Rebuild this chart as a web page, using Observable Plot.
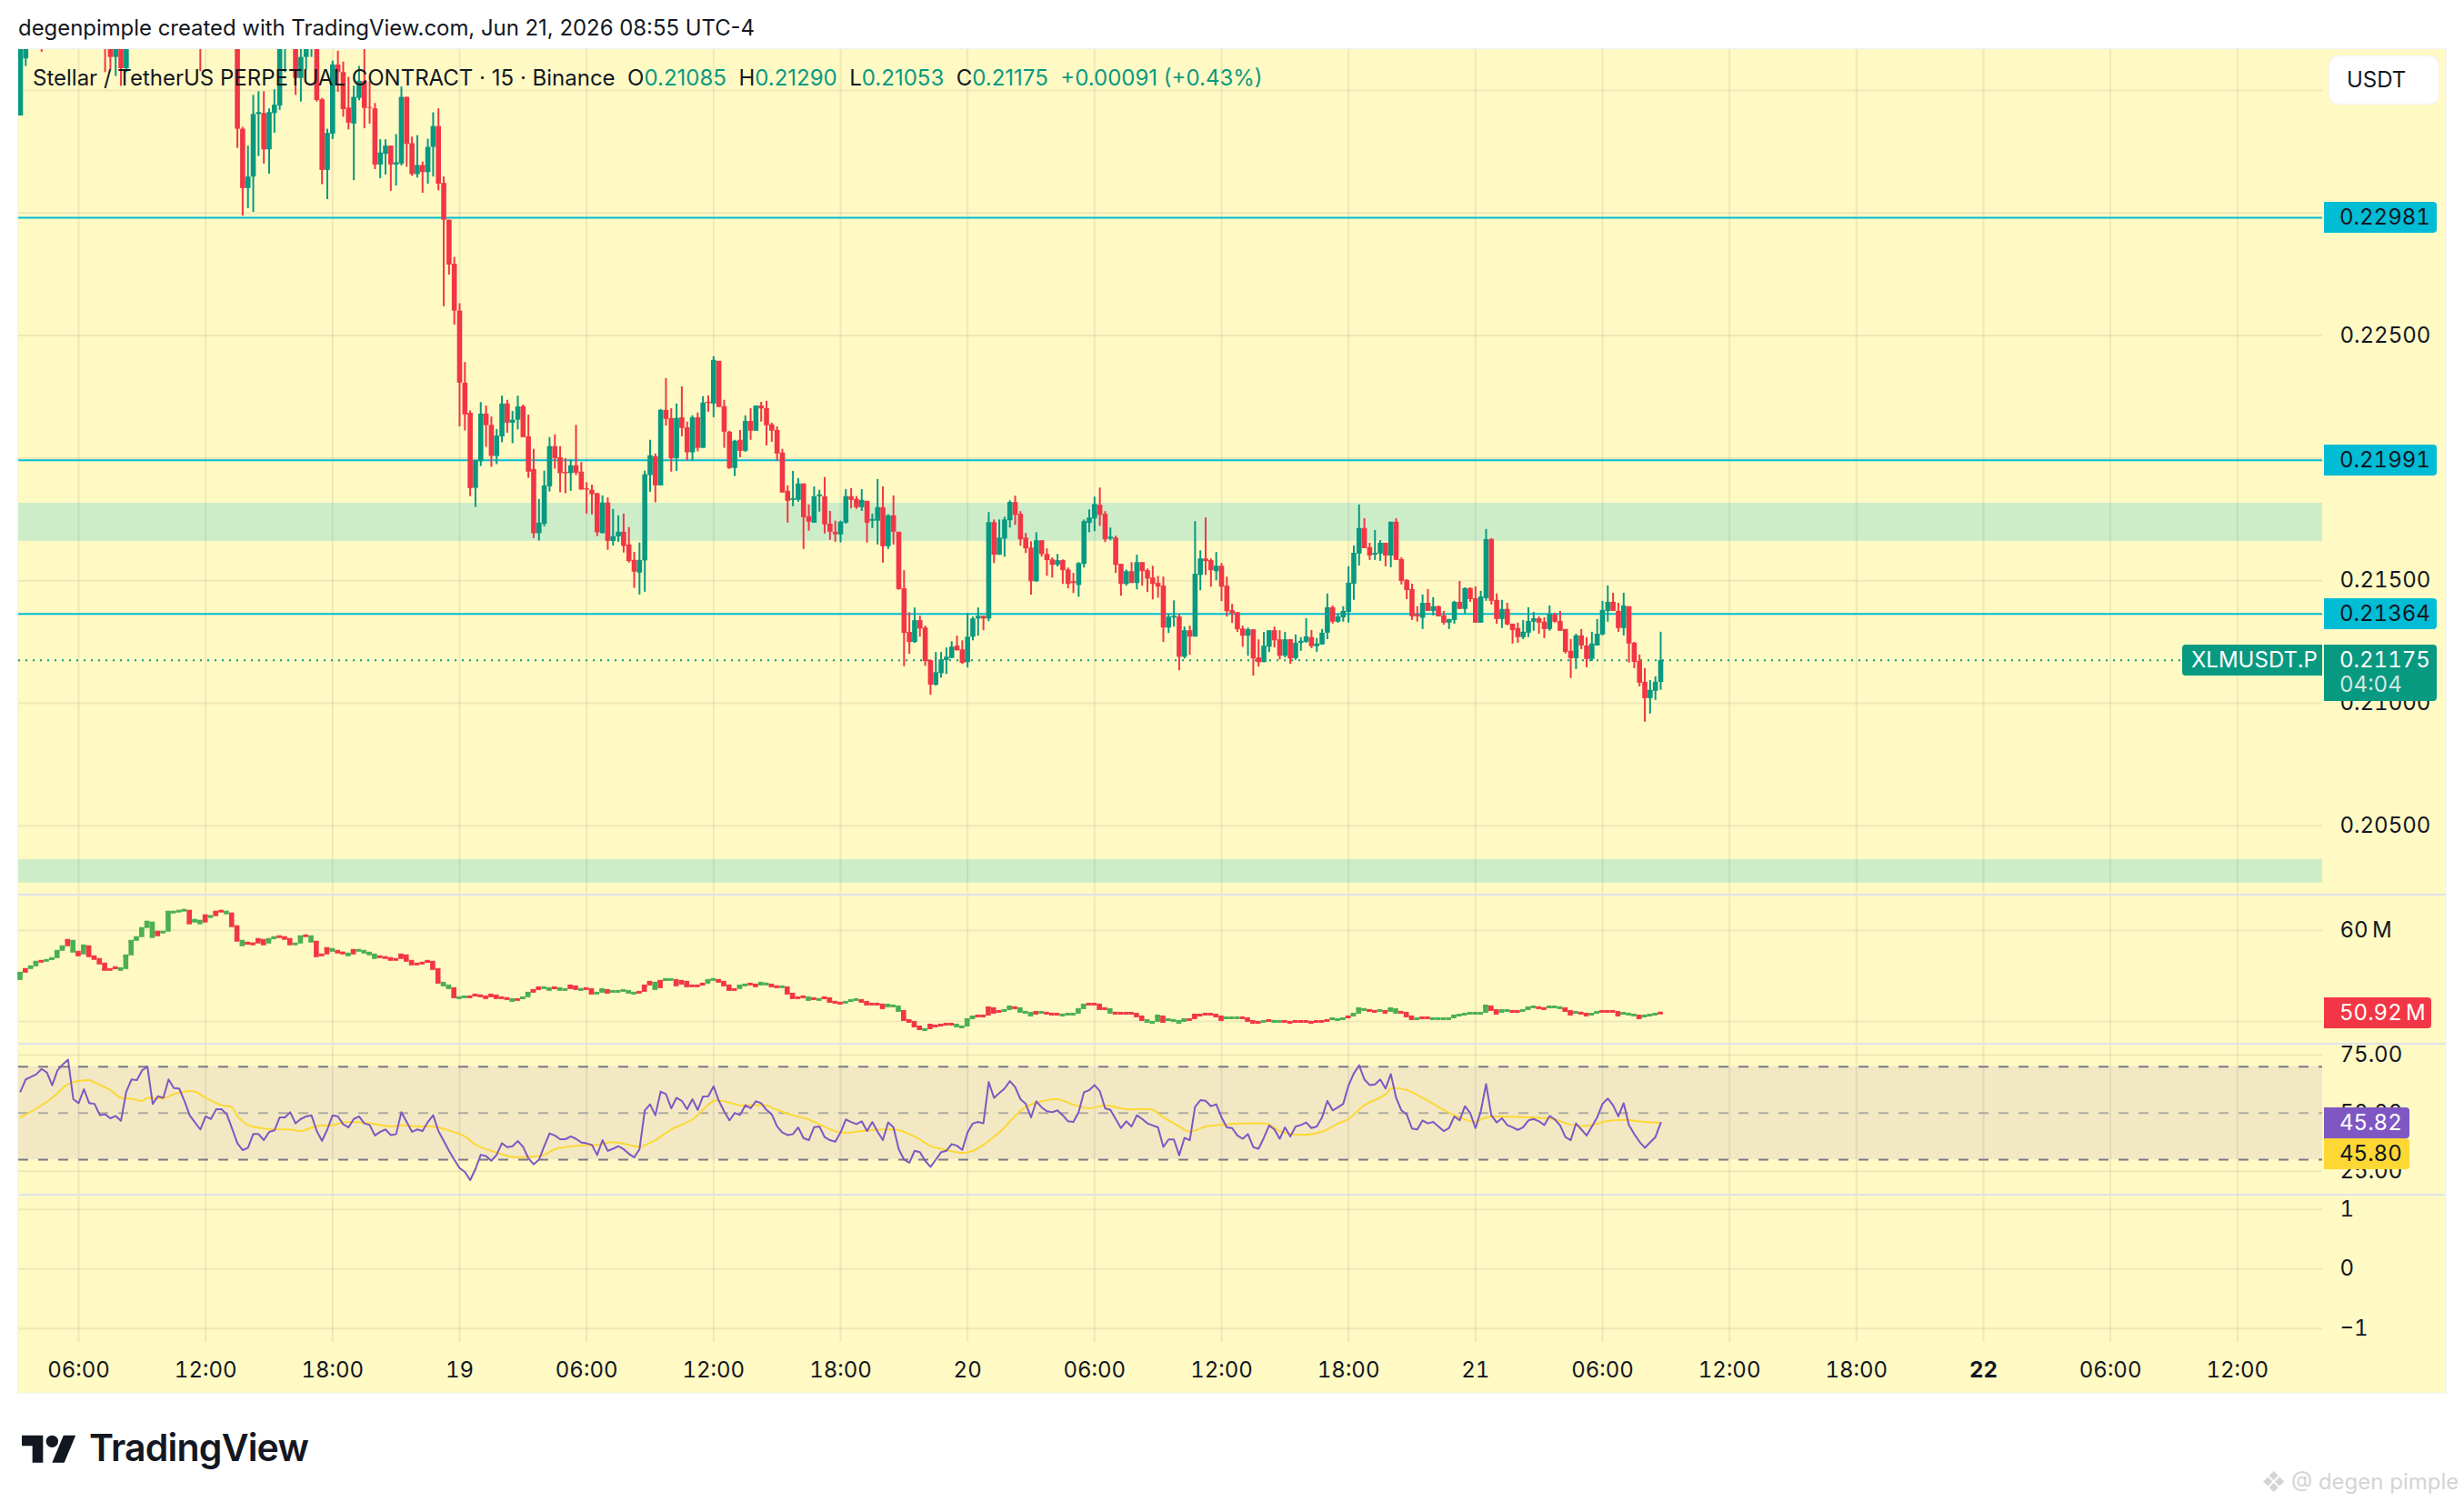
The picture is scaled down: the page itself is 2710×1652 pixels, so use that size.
<!DOCTYPE html>
<html><head><meta charset="utf-8">
<script src="https://cdn.jsdelivr.net/npm/d3@7"></script>
<script src="https://cdn.jsdelivr.net/npm/@observablehq/plot@0.6"></script>
<style>
html,body{margin:0;padding:0;background:#fff;width:2710px;height:1652px;overflow:hidden;font-family:Inter,"Liberation Sans",sans-serif;color:#131722}
#page{position:relative;width:2710px;height:1652px}
#frame{position:absolute;left:20px;top:54px;width:2670px;height:1478px;background:#fff9c4;box-shadow:0 0 0 1px #f0f3fa}
.panel{position:absolute;left:0}
.panel svg{display:block;overflow:visible}
.sep{position:absolute;left:20px;width:2670px;height:2px;background:#e0e3eb}
.tag{position:absolute;left:2556px;height:34px;line-height:34px;font-size:24px;font-variant-numeric:tabular-nums;padding-left:17px;box-sizing:border-box;border-radius:0 4px 4px 0;white-space:nowrap}
#header{position:absolute;left:20px;top:16px;font-size:23.9px;line-height:30px;white-space:nowrap}
#legend{position:absolute;left:36px;top:70px;font-size:24px;line-height:32px;white-space:pre;color:#131722}
#legend b{font-weight:400;color:#089981}
#usdt{position:absolute;left:2562px;top:62px;width:120px;height:52px;background:#fff;border-radius:10px;box-shadow:0 0 0 1px #f0f3fa;font-size:24px;line-height:52px;padding-left:19px;box-sizing:border-box}
#brand{position:absolute;left:98px;top:1567px;font-size:41px;line-height:50px;font-weight:600;letter-spacing:-.8px;color:#131722}
#mark{position:absolute;left:24px;top:1572px}
#stamp{position:absolute;left:2488px;top:1615px;font-size:24px;line-height:30px;color:#d4d4d4;white-space:nowrap}
</style></head><body><div id="page">
<div id="header">degenpimple created with TradingView.com, Jun 21, 2026 08:55 UTC-4</div>
<div id="frame"></div>
<div id="stack"></div>
<div id="legend">Stellar / TetherUS PERPETUAL CONTRACT · 15 · Binance  O<b>0.21085</b>  H<b>0.21290</b>  L<b>0.21053</b>  C<b>0.21175</b>  <b>+0.00091 (+0.43%)</b></div>
<div id="usdt">USDT</div>
<svg id="mark" width="60" height="40" viewBox="0 0 36 24"><path fill="#131722" d="M14 22H7V11H0V4h14v18zM28 22h-8l7.5-18h8L28 22z"/><circle fill="#131722" cx="20" cy="8" r="4"/></svg>
<div id="brand">TradingView</div>
<div id="stamp">❖ @ degen pimple</div>
</div>
<script>
// Bars: 15-minute candles, first bar is 03:15 on 18 Jun 2026. Values in 1e-5 USDT. null = bar lies entirely above the visible price range.
const N = null;
const openE5 = [23396,23629,N,N,23800,N,N,N,N,N,N,N,N,N,N,N,23740,23720,23635,23720,23589,N,N,N,N,N,N,N,N,N,N,N,N,N,23800,N,N,N,N,N,N,
23750,23342,23100,23147,23402,23406,23258,23406,23437,23700,
N,23740,23549,23635,23680,23700,23462,23174,23322,23604,
23573,23428,23363,23468,23536,23430,23425,23196,23240,23273,
23196,23200,23472,23283,23157,23194,23165,23268,23353,23121,
22971,22791,22600,22306,22183,21877,21986,22180,22134,22007,
22087,22221,22143,22155,22210,22087,21954,21692,21730,21883,
22047,22002,21942,21937,21969,21943,21875,21869,21855,21692,
21817,21660,21679,21698,21646,21583,21531,21581,21929,22006,
21887,22195,22162,21998,22165,22124,22022,22165,22040,22228,
22221,22395,22210,22106,21958,22073,22028,22150,22110,22213,
22202,22136,22113,22021,21865,21828,21828,21895,21761,21735,
21843,21843,21731,21698,21687,21735,21843,21832,21798,21824,
21743,21743,21798,21639,21765,21698,21467,21289,21248,21337,
21307,21174,21074,21121,21174,21183,21233,21218,21166,21270,
21344,21355,21344,21737,21604,21670,21745,21819,21771,21674,
21633,21496,21663,21607,21585,21563,21582,21544,21496,21481,
21567,21734,21752,21808,21771,21670,21674,21567,21485,21537,
21489,21574,21541,21511,21489,21478,21307,21348,21352,21188,
21296,21270,21522,21589,21582,21537,21559,21478,21378,21370,
21303,21274,21300,21185,21166,21229,21296,21259,21192,21259,
21182,21245,21249,21268,21231,21238,21286,21390,21331,21349,
21371,21486,21609,21713,21635,21605,21609,21653,21601,21739,
21586,21501,21464,21360,21347,21408,21375,21394,21357,21327,
21338,21412,21383,21468,21427,21327,21427,21668,21420,21342,
21383,21323,21305,21268,21286,21331,21345,21331,21301,21360,
21334,21301,21212,21182,21275,21234,21179,21234,21279,21375,
21412,21375,21305,21394,21245,21171,21086,21019,21049,21085];
const closeE5 = [23700,23720,N,N,23780,N,N,N,N,N,N,N,N,N,N,N,23720,23635,23720,23589,23720,N,N,N,N,N,N,N,N,N,N,N,N,N,23760,N,N,N,N,N,N,
23342,23100,23147,23402,23410,23258,23410,23440,23700,23760,
N,23549,23635,23680,23700,23459,23174,23325,23604,23573,
23422,23367,23472,23538,23427,23427,23196,23245,23273,23196,
23205,23472,23280,23157,23194,23165,23268,23353,23118,22971,
22788,22600,22306,22176,21876,21989,22180,22133,22007,22090,
22221,22143,22155,22209,22084,21943,21692,21735,21887,22047,
21998,21937,21937,21969,21939,21870,21870,21851,21696,21817,
21661,21680,21698,21640,21578,21535,21583,21932,22010,21887,
22195,22158,21998,22162,22121,22022,22165,22040,22225,22223,
22399,22207,22106,21958,22069,22028,22150,22110,22213,22201,
22132,22110,22017,21858,21824,21835,21895,21757,21739,21843,
21850,21728,21698,21688,21739,21843,21828,21798,21828,21735,
21750,21798,21639,21765,21698,21464,21285,21248,21337,21303,
21170,21074,21125,21177,21188,21229,21214,21163,21270,21344,
21355,21344,21737,21604,21674,21748,21819,21767,21667,21630,
21496,21663,21607,21582,21563,21582,21541,21485,21489,21570,
21741,21756,21811,21767,21667,21678,21563,21485,21537,21489,
21574,21537,21507,21485,21474,21307,21352,21355,21188,21296,
21270,21526,21589,21578,21541,21559,21474,21374,21366,21300,
21274,21300,21181,21166,21233,21296,21255,21192,21259,21181,
21245,21253,21271,21231,21242,21286,21390,21331,21353,21375,
21490,21612,21713,21631,21601,21612,21653,21601,21739,21583,
21497,21460,21353,21353,21408,21375,21394,21353,21327,21342,
21412,21383,21468,21423,21327,21434,21668,21416,21342,21383,
21320,21297,21268,21290,21334,21345,21327,21301,21364,21331,
21294,21208,21182,21275,21234,21179,21242,21282,21379,21412,
21375,21305,21397,21242,21167,21082,21019,21053,21086,21175];
const highE5 = [23760,23760,N,N,23850,N,N,N,N,N,N,N,N,N,N,N,23800,23760,23740,23750,23760,N,N,N,N,N,N,N,N,N,N,N,N,N,23860,N,N,N,N,N,N,
23800,23350,23273,23480,23495,23495,23425,23503,23760,23800,
N,23740,23680,23720,23750,23700,23468,23342,23620,23660,
23616,23554,23518,23598,23680,23536,23447,23299,23299,23273,
23320,23514,23472,23310,23316,23208,23301,23409,23425,23147,
22971,22819,22630,22390,22193,21989,22227,22213,22168,22117,
22253,22236,22191,22253,22217,22176,22036,21832,21947,22084,
22095,22047,21998,21993,22134,21982,21900,21890,21857,21846,
21838,21791,21765,21772,21717,21616,21654,21947,22073,22017,
22199,22325,22202,22221,22291,22147,22173,22184,22251,22254,
22414,22395,22236,22110,22073,22113,22173,22202,22213,22228,
22232,22143,22128,22036,21887,21946,21917,21895,21809,21883,
21869,21921,21783,21743,21743,21872,21876,21843,21872,21824,
21772,21913,21883,21769,21846,21698,21541,21369,21389,21355,
21315,21177,21207,21207,21226,21251,21274,21255,21366,21352,
21389,21355,21778,21748,21748,21759,21826,21845,21782,21693,
21659,21696,21663,21630,21593,21607,21585,21552,21530,21574,
21748,21789,21841,21878,21782,21715,21682,21567,21544,21574,
21604,21574,21548,21559,21518,21515,21363,21418,21363,21311,
21315,21741,21622,21756,21589,21615,21570,21515,21404,21370,
21315,21307,21300,21259,21289,21296,21311,21296,21289,21260,
21279,21268,21345,21297,21264,21301,21446,21397,21364,21394,
21557,21642,21809,21753,21653,21705,21664,21653,21739,21753,
21594,21505,21486,21394,21442,21464,21431,21397,21375,21342,
21416,21497,21471,21471,21475,21457,21709,21672,21446,21420,
21408,21323,21327,21338,21390,21371,21353,21349,21397,21368,
21375,21301,21260,21282,21301,21268,21290,21342,21416,21479,
21449,21408,21449,21394,21249,21197,21142,21093,21108,21290];
const lowE5 = [23396,23598,N,N,23656,N,N,N,N,N,N,N,N,N,N,N,23573,23584,23557,23517,23573,N,N,N,N,N,N,N,N,N,N,N,N,N,23577,N,N,N,N,N,N,
23264,22988,23018,23003,23231,23200,23159,23326,23419,23573,
N,23480,23453,23584,23635,23453,23116,23055,23300,23493,
23391,23339,23132,23458,23344,23363,23177,23140,23155,23089,
23110,23192,23187,23150,23143,23081,23118,23147,23091,22618,
22747,22543,22128,22111,21843,21799,21966,22044,21963,21974,
22063,22102,22059,22115,22084,21918,21672,21662,21720,21862,
21955,21859,21855,21865,21929,21870,21772,21769,21680,21692,
21624,21642,21657,21613,21572,21469,21442,21453,21861,21818,
21887,22131,21943,21946,22087,21989,21989,22026,22040,22188,
22165,22207,22040,21954,21925,22002,22024,22073,22110,22147,
22050,22065,21989,21858,21735,21802,21820,21628,21702,21735,
21780,21691,21665,21657,21654,21731,21794,21791,21783,21654,
21713,21646,21572,21628,21646,21461,21149,21200,21244,21270,
21151,21033,21070,21103,21118,21183,21214,21159,21144,21255,
21274,21296,21333,21570,21604,21596,21715,21726,21641,21611,
21441,21493,21596,21518,21511,21556,21485,21467,21448,21433,
21552,21696,21700,21722,21656,21663,21530,21437,21478,21489,
21463,21478,21452,21422,21429,21248,21285,21311,21133,21181,
21196,21270,21459,21522,21474,21500,21415,21352,21326,21289,
21229,21192,21111,21148,21166,21207,21226,21177,21185,21159,
21175,21212,21245,21223,21208,21238,21260,21323,21327,21331,
21327,21420,21560,21631,21583,21583,21579,21557,21553,21583,
21483,21423,21338,21331,21301,21375,21357,21353,21319,21301,
21323,21383,21364,21412,21327,21327,21416,21401,21323,21305,
21316,21242,21245,21260,21268,21294,21282,21264,21294,21327,
21294,21201,21101,21138,21219,21145,21171,21234,21275,21331,
21375,21290,21275,21164,21141,21067,20923,20956,21012,21053];
// Second pane, in millions, and its bar colours (G rise-coloured, R fall-coloured).
const paneTwoMillions = [55.3,55.7,56.0,56.5,56.6,56.7,56.9,57.7,58.2,58.9,
57.7,57.3,58.3,57.2,56.9,56.4,55.7,55.7,55.9,55.7,
57.2,58.8,59.2,60.2,60.9,59.3,59.8,59.8,62.0,62.0,
62.1,62.2,60.8,61.1,60.8,61.6,61.5,62.0,62.1,61.9,
60.5,58.9,58.4,58.6,58.5,59.0,58.5,59.0,59.2,59.3,
59.1,58.5,58.5,59.3,59.4,58.8,57.2,57.3,58.0,57.8,
57.6,57.5,57.3,57.8,57.8,57.6,57.4,57.0,57.1,57.0,
56.8,56.8,57.3,56.7,56.3,56.3,56.4,56.6,55.8,54.3,
54.0,53.7,52.7,52.6,52.7,52.7,52.9,52.8,52.6,52.9,
52.6,52.6,52.5,52.3,52.4,52.6,53.1,53.4,53.7,53.7,
53.5,53.7,53.5,53.5,53.9,53.6,53.5,53.6,53.1,53.1,
53.5,53.2,53.3,53.3,53.4,53.2,53.1,53.2,53.9,54.3,
53.6,54.4,54.6,54.6,54.0,54.4,53.9,53.9,53.9,54.1,
54.5,54.6,54.4,54.0,53.5,53.5,53.9,54.0,54.1,53.9,
54.2,54.1,53.9,53.8,53.8,53.1,52.6,52.6,52.7,52.4,
52.5,52.4,52.6,52.2,52.1,52.0,52.1,52.3,52.4,
52.2,51.9,51.9,51.9,51.5,51.8,51.7,51.2,50.2,
50.0,49.5,49.2,49.1,49.6,49.5,49.6,49.7,49.7,49.5,49.4,
50.2,50.5,50.6,50.6,51.5,51.0,51.1,51.2,51.6,51.5,51.1,51.0,50.7,51.0,51.0,50.9,50.8,50.8,50.7,50.8,50.8,51.3,51.8,51.9,51.9,51.4,51.4,51.0,50.9,50.9,50.9,50.9,50.6,
50.2,50.0,49.9,
50.6,50.0,50.2,50.1,49.9,50.2,50.2,50.7,50.7,50.8,50.8,50.6,50.2,50.4,50.4,50.4,50.4,50.1,49.9,49.9,50.0,50.1,50.0,50.0,50.0,49.9,50.0,50.0,50.0,49.9,50.0,50.0,50.1,50.3,50.2,50.3,50.5,50.8,51.4,51.3,51.2,51.1,51.2,51.0,51.4,51.0,51.0,50.6,50.3,50.3,50.4,50.4,50.3,50.3,50.3,50.3,50.6,50.7,50.8,50.9,50.9,50.9,51.7,51.3,50.9,51.2,51.2,51.1,51.1,51.2,51.5,51.6,51.5,51.4,51.6,51.6,51.5,51.2,50.8,51.0,50.9,50.7,50.8,51.0,51.1,51.1,51.1,50.7,50.9,50.8,50.7,50.4,50.6,50.7,50.8,50.92];
const paneTwoFirstOpen = 54.5;
const paneTwoColours = ["GRGGRGGGGR","GRGRRRRRRG","GGGGGGRGGG","GGRGGRGRRG","RRGRRRRGGR","RRGGRGRRRG","RRGRGGGGRR","RRRRRRRRRR","GGRGGRRRRR","RRRGRGGRRG","GRGGRRGRRG","GRGGGGGRRR","GRGGRRRRRR","GGRRRRGGRR","GGRRGRRRRG","RGRRRRGGG","RRRRRGGGR","RRRGRRRRRGG","GGRRRRRGGRGGGRGRRRGGGGGRRRRGRRRRR","RGG",
"GRGGGGRRRRRRRGGGRRRRGRGGRRRRRRRRRGGGRGGGRRGRGGRRRGRRGGGGGGGGGGGRRGGRRGGGRRGGGRRGRRGGRRRRGGGRGGGR"].join("");
// RSI, one value per bar.
const rsiValues = [59.3,64.5,65.6,66.7,69,67.5,62,68.4,71,73,56,
54.3,60.3,54.3,54,49.2,49.5,47.8,48.8,46.7,59.3,
64.5,64.2,68.4,70,54,57.3,56.6,64.5,60.8,60.6,
55.3,49,46,43,48.6,47.5,51.7,51.7,49.5,43.4,
37.1,34.1,35.1,41,41,38.4,41.9,42.6,48.2,48.2,
50.4,45.6,47.5,48.6,49.1,42.3,38.1,43,49.1,48.6,
45.2,43.9,47.5,48.6,45.6,44.9,40.4,42,43,40.6,
41,50.4,46.2,42,43,42.3,46.2,49.1,42.3,38.1,
33.8,30,26.4,24.7,21.2,26,32.1,31.6,29.5,32.1,
37.1,35.4,35.8,38,35.5,30.6,28,30,35.8,41.3,
40.4,38.8,38.8,40,39,37.4,37,36.4,32,38.4,
33.8,34.7,35.8,34.5,32.5,31,34.5,51.2,53.8,49.1,
59.3,58.2,52.1,56.6,55.3,51.7,56,51.4,57.2,57.3,
61.6,55.3,50.8,46.9,50.1,49.2,53.4,52.1,55.1,54.3,
51.4,49.5,44.3,41.7,40.6,41,43.9,39.3,38.4,44,
44.3,39.7,38.4,37.7,41.7,47.3,46.2,45.3,46.5,42.3,
46.2,42,38.4,46,43.9,34.5,30,28.7,33.8,33.2,
29.5,26.9,30,33.2,33.8,36.7,36,34.2,41.7,45.6,
46.2,45.6,63.4,56.6,58.6,60.6,63.8,61.2,56,54,
48.2,55.1,52.5,50.8,50.4,51.2,49.1,46.5,46.2,50.4,
59,59.9,62.1,59.5,52.1,51.4,47.5,43.6,46.5,44.3,
49.1,47.5,45.6,44.7,43.9,35.5,38.7,38.7,31.9,39.4,
38.4,52.7,55.6,55.3,53,53.8,48.2,43.9,43.6,40.4,
39,41,35.4,34.7,39.4,44.7,43,39,43.9,40,
44.3,44.9,46,43.6,44.3,48.2,55.3,51.2,52.5,54,
61.9,67.1,70.6,64.5,62.1,62.4,64.5,60.6,66.8,56.6,
51.2,49.5,43.4,43,46.9,45.6,46.2,44.3,42.3,43.6,
48.6,46.9,53,50.1,43.6,50.8,62.5,49.1,46,47.8,
44.9,43.9,42.8,43.9,46.9,47.5,46.5,44.9,48.8,47.3,
44.7,39.7,38.4,45.6,43,40.4,44.3,48.2,54,56.3,
53.4,48.6,54.3,44.9,41,37.7,35.1,37.4,39.7,45.82];
// RSI moving average, read at its turning points: bar number (0 = 06:00 on 18 Jun) and value.
const maBars = [-11,-8,-5,-2,0,2,3,6,8,10,12,13,16,18,20,22,24,27,29,30,32,35,37,40,42,45,48,50,52,55,59,61,64,67,70,73,75,78,82,85,88,90,94,98,101,104,106,109,112,116,118,120,122,125,130,132,135,138,140,144,148,152,155,157,159,161,164,167,169,171,174,177,179,182,185,188,191,194,198,203,205,208,210,213,217,222,225,227,231,235,238,240,243,247,248,251,254,258,261,264,266,274,279,282,285,289,292,296,299];
const maValues = [48.2,52,56.6,62.5,63.8,64.2,63.2,59.9,56.6,56.2,55.3,56.6,56.4,58.2,59.3,59.3,56.6,53.4,52.5,48.8,44.9,43.4,43,43,42.3,44.5,44.9,46,46.2,45.6,44.3,44.9,44.3,44.3,42.6,40,36.4,33.8,31.2,31.2,32.1,34.5,36,36.4,37.5,36.4,35.5,38.4,43,47.3,51.4,55.3,55.1,53.4,53.4,51.4,49.1,47.3,45.2,41.7,42.3,43,42.7,41,38.7,35.8,34.2,32.9,33.8,36.4,41.7,48.8,52.7,55.1,56,53.7,52.1,53.4,51.7,51.4,48.2,44.3,42,44.3,45.2,45.6,45.2,42.3,40.7,42,45.6,47.5,53.4,58,60.6,59.9,56.6,51.4,48.2,46.2,48.2,48.2,47.3,45,44.5,46.6,47.1,46.2,45.8];
// Horizontal levels and axis labels.
const levelPrices = [0.22981,0.21991,0.21364];
const zoneLow = [0.21661,0.20267];
const zoneHigh = [0.21816,0.20362];
const lastClose = 0.21175;
const priceTicks = [0.225,0.215,0.21,0.205];
const priceGrid = [0.235,0.23,0.225,0.22,0.215,0.21,0.205];
const paneTwoTicks = [60,50];
const rsiTicks = [75,50,25];
const rsiGrid = [75,25];
const rsiBandEdges = [30,70];
const emptyTicks = [1,0,-1];
const timeLabels = ["06:00","12:00","18:00","19","06:00","12:00","18:00","20","06:00","12:00","18:00","21","06:00","12:00","18:00","22","06:00","12:00"];

const GREEN="#089981",RED="#f23645",CYAN="#00bcd4";
const FIRST_BAR=-11, MS15=15*60*1000, T0=Date.UTC(2026,5,18,6);
const barTime=n=>new Date(T0+n*MS15);
const gridTimes=timeLabels.map((_,i)=>barTime(i*24));
const boldTime=gridTimes[15];
const xDomain=[barTime(-11.34),barTime(424.1)];

const bars=openE5.map((o,i)=>o==null?null:({t:barTime(i+FIRST_BAR),o:o/1e5,h:highE5[i]/1e5,l:lowE5[i]/1e5,c:closeE5[i]/1e5})).filter(Boolean);
const pane2=paneTwoMillions.map((v,i)=>({t0:barTime(i+FIRST_BAR-.48),t1:barTime(i+FIRST_BAR+.48),a:i?paneTwoMillions[i-1]:paneTwoFirstOpen,b:v,col:paneTwoColours[i]==="R"?RED:"#4caf50"}));
const rsi=rsiValues.map((v,i)=>({t:barTime(i+FIRST_BAR),v}));
const ma=maBars.map((b,i)=>({t:barTime(b),v:maValues[i]}));

const gridStyle={stroke:"#2a2e39",strokeOpacity:.075,strokeWidth:2};
const base=(h,y,marks)=>Plot.plot({width:2710,height:h,marginLeft:20,marginRight:156,marginTop:0,marginBottom:0,
  style:{background:"transparent",fontFamily:"Inter, sans-serif",color:"#131722",overflow:"visible"},
  x:{type:"utc",domain:xDomain,axis:null},y:{domain:y,axis:null},marks});
const yAxis=(ticks,fmt)=>Plot.axisY(ticks,{anchor:"right",tickSize:0,tickPadding:19,tickFormat:fmt,fontSize:24,label:null,fill:"#131722"});
const vGrid=Plot.gridX(gridTimes,gridStyle);

const main=base(929,[0.21-(983-773)/26960,0.21+(773-54)/26960],[
  Plot.rect(zoneLow.map((l,i)=>({l,h:zoneHigh[i]})),{y1:"l",y2:"h",fill:"#cdedc9"}),
  Plot.gridY(priceGrid,gridStyle),vGrid,
  Plot.ruleY([lastClose],{stroke:GREEN,strokeWidth:2,strokeDasharray:"2 6"}),
  Plot.ruleY(levelPrices,{stroke:CYAN,strokeWidth:2}),
  Plot.ruleX(bars,{x:"t",y1:"l",y2:"h",stroke:d=>d.c>=d.o?GREEN:RED,strokeWidth:2,clip:true}),
  Plot.ruleX(bars,{x:"t",y1:"o",y2:"c",stroke:d=>d.c>=d.o?GREEN:RED,strokeWidth:5.6,clip:true}),
  yAxis(priceTicks,d3.format(".5f"))
]);
const vol=base(162,[47.6,63.76],[
  Plot.gridY(paneTwoTicks,gridStyle),vGrid,
  Plot.rect(pane2,{x1:"t0",x2:"t1",y1:"a",y2:"b",fill:"col"}),
  Plot.ruleY(pane2,{x1:"t0",x2:"t1",y:"b",stroke:"col",strokeWidth:3}),
  yAxis(paneTwoTicks,d=>d+"\u202fM")
]);
const rsiPlot=base(164,[15.14,79.27],[
  Plot.rect([{a:rsiBandEdges[0],b:rsiBandEdges[1]}],{y1:"a",y2:"b",fill:"#7e57c2",fillOpacity:.1}),
  Plot.gridY(rsiGrid,gridStyle),vGrid,
  Plot.ruleY(rsiBandEdges,{stroke:"#787b86",strokeWidth:2,strokeDasharray:"11 11"}),
  Plot.ruleY([50],{stroke:"#787b86",strokeOpacity:.55,strokeWidth:2,strokeDasharray:"11 11"}),
  Plot.line(ma,{x:"t",y:"v",stroke:"#fdd835",strokeWidth:2,curve:"catmull-rom"}),
  Plot.line(rsi,{x:"t",y:"v",stroke:"#7e57c2",strokeWidth:2}),
  yAxis(rsiTicks,d3.format(".2f"))
]);
const last=base(161,[-1.234,1.224],[
  Plot.gridY(emptyTicks,gridStyle),vGrid,
  yAxis(emptyTicks,d=>d<0?"\u2212"+(-d):""+d)
]);
const timeAxis=Plot.plot({width:2710,height:56,marginLeft:20,marginRight:156,marginTop:50,marginBottom:0,
  style:{background:"transparent",fontFamily:"Inter, sans-serif",color:"#131722",overflow:"visible"},
  x:{type:"utc",domain:xDomain,axis:null},
  marks:[
    Plot.axisX(gridTimes.filter(t=>t!==boldTime),{anchor:"top",tickSize:0,tickPadding:19,fontSize:24,label:null,textAnchor:"middle",lineAnchor:"middle",tickFormat:t=>timeLabels[gridTimes.findIndex(g=>+g===+t)]}),
    Plot.axisX([boldTime],{anchor:"top",tickSize:0,tickPadding:19,fontSize:24,fontWeight:700,label:null,textAnchor:"middle",lineAnchor:"middle",tickFormat:t=>timeLabels[gridTimes.findIndex(g=>+g===+t)]})
  ]});

const stack=document.getElementById("stack");
[[main,54],[vol,985],[rsiPlot,1149],[last,1315],[timeAxis,1476]].forEach(([el,top])=>{
  const d=document.createElement("div");d.className="panel";d.style.top=top+"px";d.appendChild(el);stack.appendChild(d);
});
[983,1147,1313].forEach(top=>{const s=document.createElement("div");s.className="sep";s.style.top=top+"px";stack.appendChild(s);});

// Value tags sit in the axis column, at the height the pane's own y scale gives.
function tag(text,chart,value,top,bg,fg,w,extra){
  const t=document.createElement("div");t.className="tag";t.textContent=text;
  t.style.top=(top+chart.scale("y").apply(value)-17)+"px";t.style.background=bg;t.style.color=fg;t.style.width=w+"px";
  if(extra)Object.assign(t.style,extra);stack.appendChild(t);return t;
}
levelPrices.forEach(p=>tag(p.toFixed(5),main,p,54,CYAN,"#131722",124));
const cp=tag("0.21175",main,lastClose,54,GREEN,"#fff",124,{height:"62px"});
const cd=document.createElement("div");cd.textContent="04:04";cd.style.cssText="position:absolute;left:17px;top:29px;color:#cfe8e1;line-height:30px";cp.appendChild(cd);
tag("XLMUSDT.P",main,lastClose,54,GREEN,"#fff",154,{left:"2400px",paddingLeft:"10px",borderRadius:"4px 0 0 4px"});
tag("50.92\u202fM",vol,50.92,985,RED,"#fff",118);
tag("45.82",rsiPlot,rsiValues[rsiValues.length-1],1149,"#7e57c2","#fff",94);
const y1=rsiPlot.scale("y").apply(rsiValues[rsiValues.length-1]);
const my=tag("45.80",rsiPlot,45.80,1149,"#fdd835","#131722",94);
my.style.top=(1149+y1-17+34)+"px";
</script></body></html>
